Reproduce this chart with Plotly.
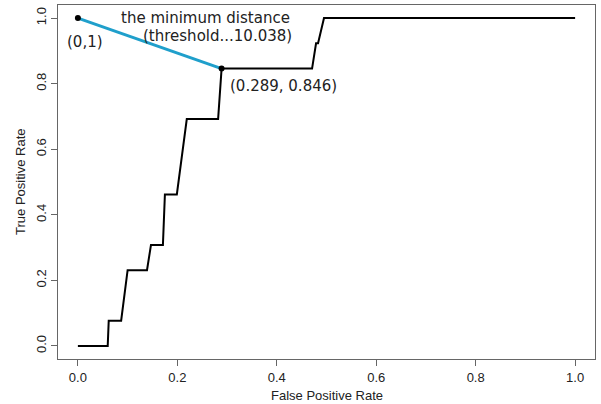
import plotly.graph_objects as go

# ROC curve points (False Positive Rate, True Positive Rate)
fpr = [0.0, 0.060, 0.062, 0.087, 0.100, 0.139, 0.147, 0.171, 0.175, 0.199,
       0.219, 0.282, 0.289, 0.471, 0.479, 0.483, 0.495, 1.0]
tpr = [0.0, 0.0, 0.077, 0.077, 0.231, 0.231, 0.308, 0.308, 0.462, 0.462,
       0.692, 0.692, 0.846, 0.846, 0.923, 0.923, 1.0, 1.0]

# minimum-distance segment
seg_x = [0.0, 0.289]
seg_y = [1.0, 0.846]

tick_vals = [0.0, 0.2, 0.4, 0.6, 0.8, 1.0]
tick_text = ["0.0", "0.2", "0.4", "0.6", "0.8", "1.0"]

fig = go.Figure()
fig.add_trace(go.Scatter(x=fpr, y=tpr, mode="lines",
                         line=dict(color="black", width=2), showlegend=False))
fig.add_trace(go.Scatter(x=seg_x, y=seg_y, mode="lines",
                         line=dict(color="#1f9fcb", width=3), showlegend=False))
fig.add_trace(go.Scatter(x=seg_x, y=seg_y, mode="markers",
                         marker=dict(color="black", size=6), showlegend=False))

afont = dict(family="DejaVu Sans", size=15, color="#222")
fig.add_annotation(x=0.256, y=1.0, text="the minimum distance", showarrow=False,
                   xanchor="center", yanchor="middle", font=afont)
fig.add_annotation(x=0.280, y=0.945, text="(threshold...10.038)", showarrow=False,
                   xanchor="center", yanchor="middle", font=afont)
fig.add_annotation(x=-0.026, y=0.927, text="(0,1)", showarrow=False,
                   xanchor="left", yanchor="middle", font=afont)
fig.add_annotation(x=0.302, y=0.793, text="(0.289, 0.846)", showarrow=False,
                   xanchor="left", yanchor="middle", font=afont)

tfont = dict(family="Liberation Sans", size=13, color="#222")
# axis titles
fig.add_annotation(x=0.5, y=-0.1045, xref="paper", yref="paper",
                   text="False Positive Rate", showarrow=False,
                   xanchor="center", yanchor="middle", font=tfont)
fig.add_annotation(x=-0.0708, y=0.5, xref="paper", yref="paper",
                   text="True Positive Rate", showarrow=False, textangle=-90,
                   xanchor="center", yanchor="middle", font=tfont)

axis_common = dict(showline=True, mirror=True, linecolor="#666", linewidth=1,
                   ticks="outside", ticklen=6, tickcolor="#666",
                   showgrid=False, zeroline=False,
                   tickfont=tfont,
                   tickvals=tick_vals, ticktext=tick_text)

fig.update_layout(
    width=601, height=404,
    margin=dict(l=58, r=6, t=5, b=45),
    plot_bgcolor="white", paper_bgcolor="white",
    xaxis=dict(range=[-0.04, 1.04], **axis_common),
    yaxis=dict(range=[-0.04, 1.04], tickangle=-90, **axis_common),
)

fig.write_html("out.html")
